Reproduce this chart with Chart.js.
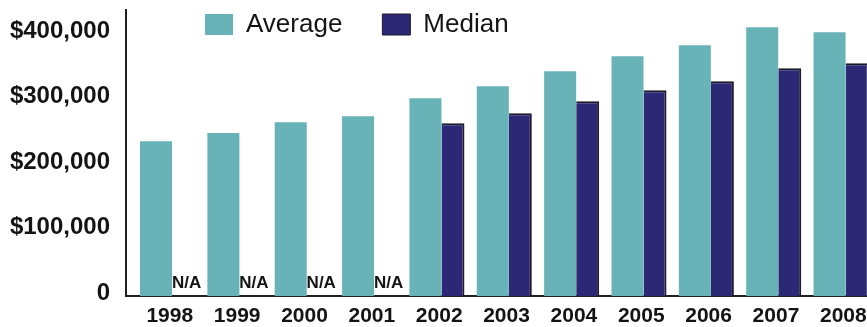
<!DOCTYPE html>
<html>
<head>
<meta charset="utf-8">
<style>
html,body{margin:0;padding:0;background:#fff;overflow:hidden;width:867px;height:327px}
#wrap{position:relative;width:867px;height:327px;overflow:hidden}
canvas{display:block}
</style>
<script src="https://cdn.jsdelivr.net/npm/chart.js@4.4.1/dist/chart.umd.min.js"></script>
</head>
<body>
<div id="wrap"><canvas id="c" width="880" height="327"></canvas></div>
<script>
// ---- data ----
const years = ['1998','1999','2000','2001','2002','2003','2004','2005','2006','2007','2008'];
const averageValues = [236600, 248900, 265600, 274800, 302300, 320600, 343500, 366400, 383200, 410700, 403100];
const medianValues  = [null, null, null, null, 264100, 279400, 297700, 314500, 328200, 348100, 355700];
const yTickValues = [0, 100000, 200000, 300000, 400000];
const yTickLabels = ['0', '$100,000', '$200,000', '$300,000', '$400,000'];
const missingLabel = 'N/A';
const seriesNames = ['Average', 'Median'];

// ---- style ----
const FONT = "'Liberation Sans', Arial, Helvetica, sans-serif";
const INK = '#141414';
const AXIS = '#231f20';
const TEAL = '#68b3b8';
const NAVY = '#2c2875';
const LEFT_GAP = 0.15; // extra empty fraction of a category before the first one

const naPlugin = {
  id: 'naLabels',
  afterDatasetsDraw(chart) {
    const meta = chart.getDatasetMeta(1);
    const y0 = chart.scales.y.getPixelForValue(0);
    const ctx = chart.ctx;
    ctx.save();
    ctx.font = 'bold 17px ' + FONT;
    ctx.fillStyle = INK;
    ctx.textAlign = 'center';
    ctx.textBaseline = 'alphabetic';
    medianValues.forEach((v, i) => {
      if (v === null) {
        const el = meta.data[i];
        ctx.fillText(missingLabel, el.x + 3, y0 - 8);
      }
    });
    ctx.restore();
  }
};

const legendPlace = {
  id: 'legendPlace',
  beforeLayout(chart) {
    const lg = chart.legend;
    if (lg && !lg._fitPatched) {
      const f = lg.fit;
      lg.fit = function () { f.call(this); this._fullH = this.height; this.height = 0; };
      lg._fitPatched = true;
    }
  },
  afterLayout(chart) {
    const lg = chart.legend;
    const ca = chart.chartArea;
    const pad = lg.options.labels.padding;
    lg.left = ca.left + 79 - pad;
    lg.right = lg.left + 700;
    lg.width = 700;
    lg.top = ca.top + 1.5 - pad;
    lg.bottom = lg.top + 200;
    lg.height = 200;
  }
};

new Chart(document.getElementById('c'), {
  type: 'bar',
  data: {
    labels: years,
    datasets: [
      {
        label: seriesNames[0],
        data: averageValues,
        backgroundColor: TEAL,
        borderWidth: 0,
        barPercentage: 1.164
      },
      {
        label: seriesNames[1],
        data: medianValues,
        backgroundColor: NAVY,
        borderColor: '#1c1b2b',
        borderWidth: {top: 2, right: 2, bottom: 0, left: 0},
        borderSkipped: false,
        barPercentage: 0.836
      }
    ]
  },
  options: {
    responsive: false,
    animation: false,
    devicePixelRatio: 1,
    layout: {padding: {top: 10, right: 3, left: 0, bottom: 0}},
    datasets: {bar: {categoryPercentage: 0.817}},
    plugins: {
      tooltip: {enabled: false},
      legend: {
        position: 'top',
        align: 'start',
        labels: {
          boxWidth: 28,
          boxHeight: 21,
          padding: 40,
          color: INK,
          font: {family: FONT, size: 26}
        }
      }
    },
    scales: {
      x: {
        type: 'category',
        offset: true,
        grid: {display: false, drawTicks: false},
        border: {display: true, color: AXIS, width: 2},
        ticks: {
          color: INK,
          font: {family: FONT, size: 21, weight: 'bold'},
          padding: 8,
          maxRotation: 0,
          autoSkip: false
        },
        afterBuildTicks(s) { s._startValue -= LEFT_GAP; s._valueRange += LEFT_GAP; },
        afterFit(s) { s.height = 31; s.paddingLeft = 0; s.paddingRight = 0; }
      },
      y: {
        min: 0,
        max: 437000,
        grid: {display: false, drawTicks: false},
        border: {display: true, color: AXIS, width: 2},
        afterBuildTicks(s) { s.ticks = yTickValues.map(v => ({value: v})); },
        ticks: {
          color: INK,
          font: {family: FONT, size: 24, weight: 'bold'},
          padding: 16,
          labelOffset: -3,
          callback: (v) => yTickLabels[yTickValues.indexOf(v)]
        },
        afterFit(s) { s.width = 126; s.paddingTop = 0; s.paddingBottom = 0; }
      }
    }
  },
  plugins: [naPlugin, legendPlace]
});
</script>
</body>
</html>
